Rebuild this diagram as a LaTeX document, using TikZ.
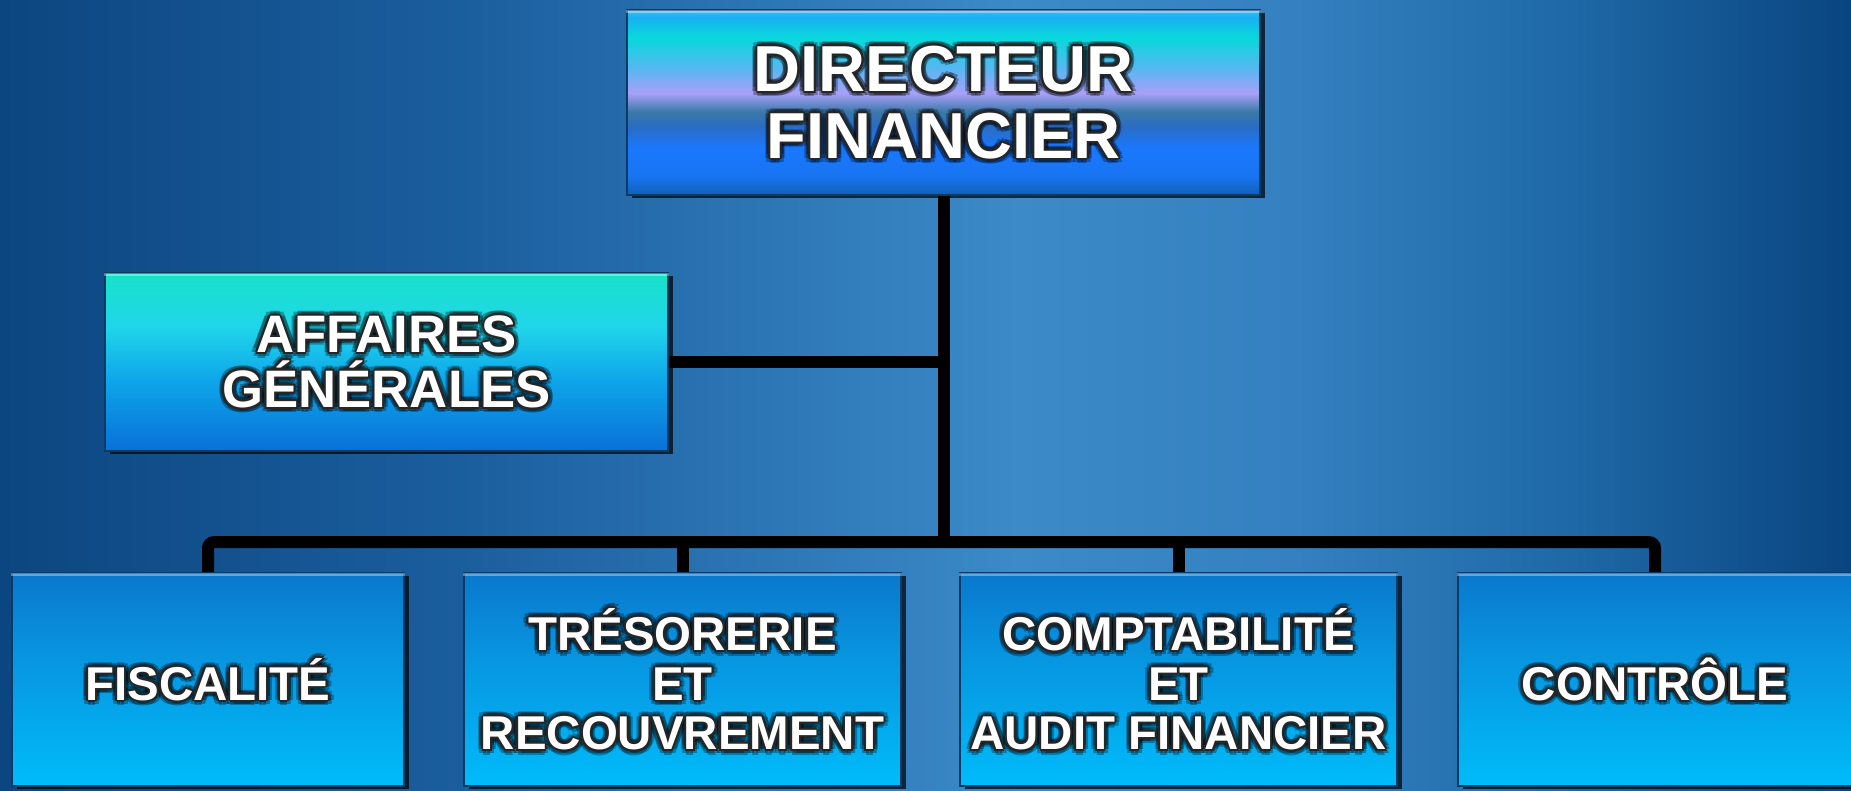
\documentclass[tikz,border=0pt]{standalone}
\usepackage{fontspec}
\setmainfont{Liberation Sans}
\usetikzlibrary{shadows}

\definecolor{bgA}{HTML}{0C4680}
\definecolor{bgB}{HTML}{1B5E9E}
\definecolor{bgC}{HTML}{3C8AC8}
\definecolor{bgD}{HTML}{3480C0}
\definecolor{bgE}{HTML}{1E68A6}
\definecolor{bgF}{HTML}{094580}
\definecolor{edge}{HTML}{0A3A66}
% top box
\definecolor{dirA}{HTML}{1060B8}
\definecolor{dirB}{HTML}{1874F0}
\definecolor{dirC}{HTML}{1A78FF}
\definecolor{dirD}{HTML}{2A6CC4}
\definecolor{dirE}{HTML}{3A78A8}
\definecolor{dirF}{HTML}{A8A0F8}
\definecolor{dirG}{HTML}{5AB6F2}
\definecolor{dirH}{HTML}{08D8DC}
\definecolor{dirI}{HTML}{18B0F0}
\definecolor{dirJ}{HTML}{38C0F8}
% side box
\definecolor{affA}{HTML}{0870D8}
\definecolor{affB}{HTML}{0EA6EA}
\definecolor{affC}{HTML}{20D6EA}
\definecolor{affD}{HTML}{18E2C8}
% lower boxes
\definecolor{subA}{HTML}{00BCFA}
\definecolor{subB}{HTML}{0892DE}
\definecolor{subC}{HTML}{0A78CC}

\pgfdeclarehorizontalshading{bgshade}{100bp}{color(0bp)=(bgA); color(25bp)=(bgA);
  color(37.5bp)=(bgB); color(52.5bp)=(bgC); color(60bp)=(bgD); color(67.5bp)=(bgE);
  color(75bp)=(bgF); color(100bp)=(bgF)}
% 75bp is the top edge, 25bp the bottom edge
\pgfdeclareverticalshading{dirshade}{100bp}{color(0bp)=(dirA); color(25bp)=(dirA);
  color(30bp)=(dirB); color(37.5bp)=(dirC); color(43.5bp)=(dirD);
  color(47.5bp)=(dirE); color(52.5bp)=(dirF); color(59bp)=(dirG);
  color(67.5bp)=(dirH); color(73bp)=(dirI); color(75bp)=(dirJ); color(100bp)=(dirJ)}
\pgfdeclareverticalshading{affshade}{100bp}{color(0bp)=(affA); color(25bp)=(affA);
  color(45bp)=(affB); color(60bp)=(affC); color(75bp)=(affD); color(100bp)=(affD)}
\pgfdeclareverticalshading{subshade}{100bp}{color(0bp)=(subA); color(25bp)=(subA);
  color(57.5bp)=(subB); color(75bp)=(subC); color(100bp)=(subC)}

\tikzset{
  unit/.style={draw=edge, line width=0.5pt, inner sep=0pt,
    drop shadow={shadow xshift=0.045cm, shadow yshift=-0.03cm, fill=black, opacity=0.7}},
  lbl/.style={text=white, align=center, inner sep=0pt},
  link/.style={line width=0.12cm, black},
  hilite/.style={white, opacity=0.35, line width=1pt}
}

% white label with a dark outline
\newcommand{\unitlabel}[3]{%
  \foreach \dx/\dy [count=\i] in {-1.5/0,1.5/0,0/1.5,0/-1.5,-1.1/-1.1,1.1/-1.1,-1.1/1.1,1.1/1.1}
    \node[lbl, font=#2, text=black, text opacity=0.3] (#1-g\i) at ([shift={(\dx pt,\dy pt)}]#1.center) {#3};
  \foreach \dx/\dy [count=\i] in {-.6/0,.6/0,0/.6,0/-.6,-.45/-.45,.45/-.45,-.45/.45,.45/.45}
    \node[lbl, font=#2, text=black!85] (#1-o\i) at ([shift={(\dx pt,\dy pt)}]#1.center) {#3};
  \node[lbl, font=#2] (#1-t) at (#1.center) {#3};}

\begin{document}
\begin{tikzpicture}
  \useasboundingbox (0,0) rectangle (18.51,7.90);
  \clip (0,0) rectangle (18.51,7.90);
  \shade[shading=bgshade] (0,0) rectangle (18.51,7.90);

  \node[unit, shading=dirshade, minimum width=6.33cm, minimum height=1.85cm] (dir) at (9.435,6.875) {};
  \node[unit, shading=affshade, minimum width=5.63cm, minimum height=1.78cm] (aff) at (3.865,4.28) {};
  \node[unit, shading=subshade, minimum width=3.92cm, minimum height=2.13cm] (fis) at (2.08,1.105) {};
  \node[unit, shading=subshade, minimum width=4.37cm, minimum height=2.13cm] (tre) at (6.825,1.105) {};
  \node[unit, shading=subshade, minimum width=4.37cm, minimum height=2.13cm] (com) at (11.785,1.105) {};
  \node[unit, shading=subshade, minimum width=3.94cm, minimum height=2.13cm] (con) at (16.55,1.105) {};
  \foreach \n in {dir,aff,fis,tre,com,con}
    \draw[hilite] ([yshift=-0.7pt]\n.north west) -- ([yshift=-0.7pt]\n.north east);

  \coordinate (bus) at ([yshift=0.3cm]dir.south |- fis.north);
  \draw[link] (dir.south) -- (bus);
  \draw[link] (aff.east) -- (aff.east -| dir.south);
  \draw[link, rounded corners=0.06cm] (fis.north) -- ++(0,0.3) -| (con.north);
  \draw[link] (tre.north) -- (tre.north |- bus);
  \draw[link] (com.north) -- (com.north |- bus);

  \unitlabel{dir}{\fontsize{18.5}{19}\selectfont\bfseries}{DIRECTEUR\\FINANCIER}
  \unitlabel{aff}{\fontsize{15}{15.6}\selectfont\bfseries}{AFFAIRES\\GÉNÉRALES}
  \unitlabel{fis}{\fontsize{13.5}{14.1}\selectfont\bfseries}{FISCALITÉ}
  \unitlabel{tre}{\fontsize{13.5}{14.1}\selectfont\bfseries}{TRÉSORERIE\\ET\\RECOUVREMENT}
  \unitlabel{com}{\fontsize{13.5}{14.1}\selectfont\bfseries}{COMPTABILITÉ\\ET\\AUDIT FINANCIER}
  \unitlabel{con}{\fontsize{13.5}{14.1}\selectfont\bfseries}{CONTRÔLE}
\end{tikzpicture}
\end{document}
